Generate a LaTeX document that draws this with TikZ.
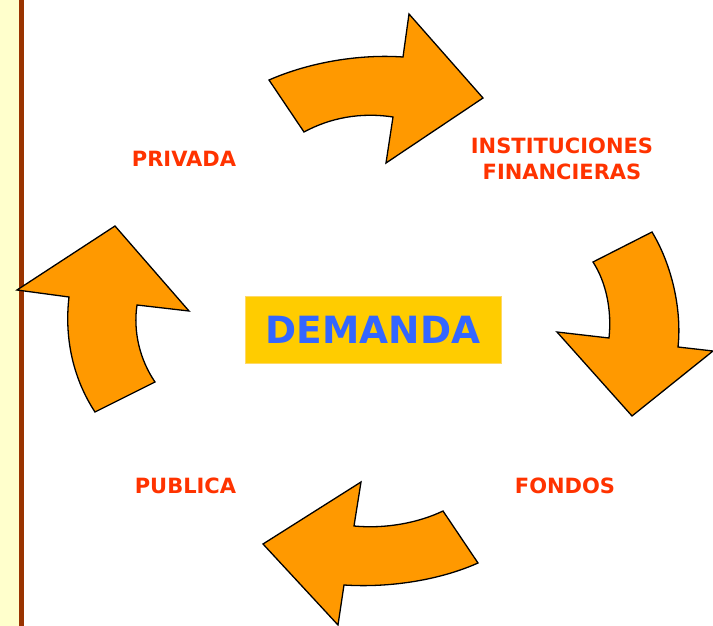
\documentclass[tikz,border=0pt]{standalone}
\usepackage{fontspec}
\setmainfont{DejaVu Sans}
\definecolor{arroworange}{HTML}{FF9900}
\definecolor{labelred}{HTML}{FF3300}
\definecolor{demandblue}{HTML}{3366FF}
\definecolor{boxyellow}{HTML}{FFCC00}
\definecolor{boxedge}{HTML}{FFD966}
\definecolor{stripyellow}{HTML}{FFFFCC}
\definecolor{stripbrown}{HTML}{993300}
\begin{document}
\begin{tikzpicture}
		[x=1pt,y=-1pt,
		bigarrow/.style={
			fill=arroworange,
			draw=black,
			line width=1.3pt,
			line join=miter
		},
		sector/.style={text=labelred,font=\fontsize{21}{26}\selectfont\bfseries,align=center,inner sep=0pt},
		centerbox/.style={rectangle,fill=boxyellow,draw=boxedge,line width=0.8pt,text=demandblue,font=\fontsize{37.5}{40}\selectfont\bfseries,minimum width=256pt,minimum height=67pt}]
		\useasboundingbox (0,0) rectangle (713,626);
		% left margin
		\fill[stripyellow] (0,0) rectangle (19,626);
		\fill[stripbrown] (19,0) rectangle (24,626);
		% arrows
		\draw[bigarrow] (269,80) .. controls (310,62) and (360,54) .. (403,57) -- (409,14) -- (483,98) -- (386,163) -- (393,117) .. controls (360,112) and (330,118) .. (304,132) -- cycle;
		\draw[bigarrow] (652,232) .. controls (672,265) and (682,310) .. (678,347) -- (713,351) -- (632,416) -- (557,332) -- (609,338) .. controls (612,310) and (606,282) .. (593,262) -- cycle;
		\draw[bigarrow] (478,563) .. controls (440,580) and (390,588) .. (344,585) -- (338,625) -- (263,544) -- (361,482) -- (354,526) .. controls (385,529) and (418,523) .. (443,511) -- cycle;
		\draw[bigarrow] (95,412) .. controls (74,380) and (64,340) .. (69,297) -- (17,290) -- (115,226) -- (189,311) -- (137,305) .. controls (133,332) and (140,360) .. (155,382) -- cycle;
		% labels
		\node[sector] (privada) at (184,158.5) {PRIVADA};
		\node[sector] (instituciones) at (562,158.5) {INSTITUCIONES\\FINANCIERAS};
		\node[sector] (fondos) at (565,486) {FONDOS};
		\node[sector] (publica) at (185.5,486) {PUBLICA};
		\node[centerbox] (demanda) at (373,329.5) {DEMANDA};
	\end{tikzpicture}
\end{document}
